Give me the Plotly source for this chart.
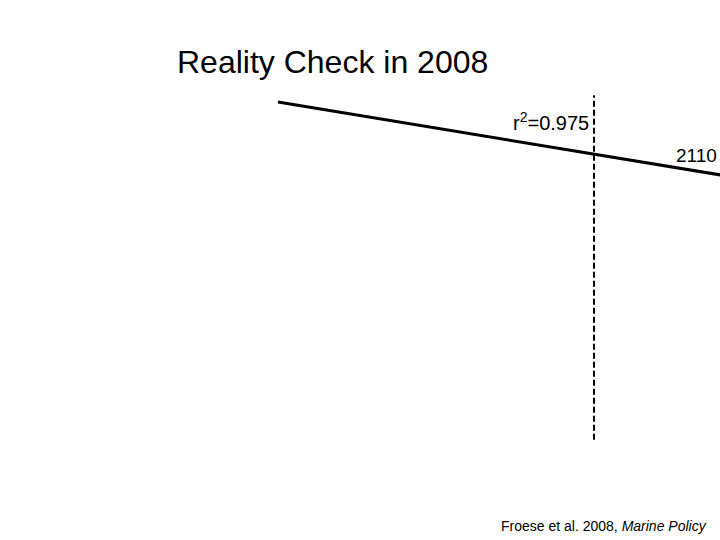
import plotly.graph_objects as go

# fitted trend (index, 1950 = 100) and the 2008 marker
trend_years = [1950, 2031.2]
trend_values = [100, 78.3]
marker_year = [2008, 2008]
marker_values = [-0.5, 102]
r_squared = "0.975"
end_label = "2110"

fig = go.Figure()
fig.add_trace(go.Scatter(x=trend_years, y=trend_values, mode="lines",
                         line=dict(color="black", width=3), hoverinfo="skip"))
fig.add_trace(go.Scatter(x=marker_year, y=marker_values, mode="lines",
                         line=dict(color="black", width=2, dash="6px,3px"), hoverinfo="skip"))

fig.update_layout(
    width=720, height=540,
    margin=dict(l=0, r=0, t=0, b=0),
    plot_bgcolor="white", paper_bgcolor="white",
    showlegend=False,
    font=dict(family="Liberation Sans, Arial", color="black"),
    xaxis=dict(range=[1898.97, 2031.13], visible=False, fixedrange=True),
    yaxis=dict(range=[-30.36, 130.36], visible=False, fixedrange=True),
    annotations=[
        dict(text="Reality Check in 2008", x=175/720, y=1-62/540, xref="paper", yref="paper",
             xanchor="left", yanchor="middle", showarrow=False, font=dict(size=32)),
        dict(text="r<sup>2</sup>=" + r_squared, x=591/720, y=1-122/540, xref="paper", yref="paper",
             xanchor="right", yanchor="middle", showarrow=False, font=dict(size=20)),
        dict(text=end_label, x=719/720, y=1-156/540, xref="paper", yref="paper",
             xanchor="right", yanchor="middle", showarrow=False, font=dict(size=19)),
        dict(text="Froese et al. 2008, <i>Marine Policy</i>", x=709/720, y=1-526/540,
             xref="paper", yref="paper", xanchor="right", yanchor="middle",
             showarrow=False, font=dict(size=14)),
    ],
)

fig.write_html("out.html", config={"displayModeBar": False},
               post_script="document.body.style.margin='0';")
